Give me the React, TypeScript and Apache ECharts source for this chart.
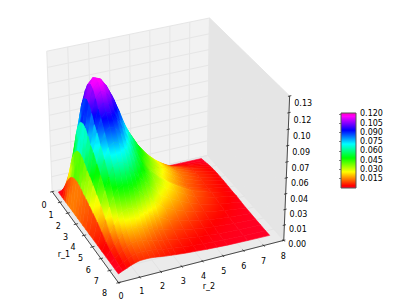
import React, { useEffect, useRef } from "react";
import * as echarts from "echarts";

const r1Values = [0.15,0.4,0.65,0.9,1.15,1.4,1.7,2,2.3,2.6,2.9,3.2,3.6,4,4.5,5,5.5,6,6.5,7,7.4];
const r2Values = [0.25,0.45,0.65,0.85,1.05,1.25,1.5,1.75,2,2.25,2.5,2.75,3,3.5,4,4.5,5,5.5,6.5,7.6];
// surface heights: one row per r_1, one column per r_2
const density = [
[0,.001,.0019,.0029,.0036,.0042,.0044,.0043,.004,.0036,.0032,.0027,.0023,.0018,.0013,.001,.0008,.0005,.0003,.0001],
[0,.0057,.0107,.0158,.02,.023,.0241,.0236,.022,.0198,.0174,.0149,.0129,.0097,.0073,.0055,.0042,.003,.0016,.0006],
[0,.0118,.022,.0326,.0412,.0473,.0496,.0486,.0453,.0408,.0359,.0306,.0265,.02,.0151,.0114,.0086,.0061,.0033,.0012],
[0,.0177,.0329,.0487,.0615,.0706,.074,.0725,.0676,.0609,.0536,.0457,.0396,.0298,.0225,.0171,.0128,.0091,.0049,.0018],
[0,.0224,.0418,.0619,.0782,.0898,.094,.0921,.0859,.0774,.0681,.058,.0503,.0379,.0286,.0217,.0163,.0116,.0062,.0023],
[0,.0259,.0482,.0714,.0902,.1025,.1065,.1048,.0985,.0893,.0786,.067,.058,.0438,.033,.025,.0188,.0134,.0071,.0027],
[0,.0283,.0527,.0781,.0986,.1105,.1155,.1135,.1072,.0976,.0859,.0732,.0634,.0478,.0361,.0273,.0205,.0146,.0078,.0029],
[0,.029,.054,.08,.101,.1135,.118,.116,.1095,.1,.088,.075,.065,.049,.037,.028,.021,.015,.008,.003],
[0,.0284,.053,.0785,.0991,.1115,.1165,.114,.1078,.0981,.0863,.0736,.0638,.0481,.0363,.0275,.0206,.0147,.0078,.0029],
[0,.0269,.0501,.0742,.0937,.106,.1115,.1092,.1025,.0928,.0817,.0696,.0603,.0455,.0343,.026,.0195,.0139,.0074,.0028],
[0,.0248,.0462,.0684,.0864,.0992,.1039,.1017,.0949,.0855,.0752,.0641,.0556,.0419,.0316,.0239,.018,.0128,.0068,.0026],
[0,.0235,.0438,.0649,.0819,.0941,.0985,.0965,.09,.0811,.0713,.0608,.0527,.0389,.0295,.0222,.0167,.012,.0064,.0024],
[0,.0213,.0395,.0586,.074,.085,.089,.0871,.0813,.0732,.0645,.055,.0495,.0377,.0297,.0235,.0177,.0126,.0066,.0021],
[0,.0188,.035,.052,.0655,.0754,.0788,.0773,.072,.0649,.0571,.0511,.0455,.0336,.0264,.0208,.0156,.0111,.0059,.0022],
[0,.0157,.0293,.0433,.0546,.0628,.0657,.0644,.0601,.0541,.0476,.0429,.038,.027,.0213,.0167,.0125,.009,.0047,.0014],
[0,.012,.0223,.0331,.0418,.048,.0503,.0492,.0459,.0414,.0364,.0329,.0285,.0201,.0159,.0125,.0093,.0068,.0036,.001],
[0,.0079,.0149,.022,.0277,.0319,.0334,.0328,.0305,.0275,.0242,.0218,.0192,.0142,.0112,.0088,.0066,.0047,.0025,.0008],
[0,.005,.0093,.0139,.0175,.0201,.021,.0206,.0192,.0173,.0152,.0138,.0124,.0098,.0077,.0061,.0046,.0033,.0017,.0005],
[0,.0034,.0063,.0094,.0118,.0136,.0142,.0139,.013,.0117,.0103,.0093,.0084,.0066,.0052,.0041,.0031,.0022,.0011,.0004],
[0,.0024,.0045,.0066,.0083,.0096,.01,.0098,.0092,.0083,.0073,.0066,.0059,.0046,.0037,.0029,.0021,.0015,.0008,.0002],
[0,.0018,.0033,.005,.0063,.0072,.0075,.0074,.0069,.0062,.0055,.005,.0044,.0035,.0028,.0021,.0016,.0011,.0006,.0002],
];
const rTicks = [0,1,2,3,4,5,6,7,8];
const zTicks = [0,.0144,.0289,.0433,.0578,.0722,.0867,.1011,.1156,.13];
const colorbarTicks = [0.015,0.03,0.045,0.06,0.075,0.09,0.105,0.12];
const colorMax = 0.1215;
const rMax = 8;
const zMax = 0.13;
// gist_rainbow colormap anchors: position, r, g, b
const rainbow = [
  [0,255,0,41],[0.03,255,0,0],[0.215,255,255,0],[0.4,0,255,0],[0.586,0,255,255],[0.77,0,0,255],[0.954,255,0,255],[1,255,0,191],
];

const FONT = "DejaVu Sans";
const AZ = (-24 * Math.PI) / 180;
const EL = (31 * Math.PI) / 180;
const DIST = 10;
const SCALE = 1795;
const Z_SQUASH = 0.925;
const CX = 165.5;
const CY = 146;

function project(r1: number, r2: number, z: number): number[] {
  const p = [r1 / rMax - 0.5, r2 / rMax - 0.5, (z / zMax - 0.5) * Z_SQUASH];
  const n = [Math.cos(AZ) * Math.cos(EL), Math.sin(AZ) * Math.cos(EL), Math.sin(EL)];
  const right = [-Math.sin(AZ), Math.cos(AZ), 0];
  const up = [
    n[1] * right[2] - n[2] * right[1],
    n[2] * right[0] - n[0] * right[2],
    n[0] * right[1] - n[1] * right[0],
  ];
  const dot = (a: number[], b: number[]) => a[0] * b[0] + a[1] * b[1] + a[2] * b[2];
  const d = DIST - dot(p, n);
  return [CX + (SCALE * dot(p, right)) / d, CY - (SCALE * dot(p, up)) / d];
}

function colorOf(v: number): string {
  const t = Math.max(0, Math.min(1, v / colorMax));
  for (let i = 1; i < rainbow.length; i++) {
    if (t <= rainbow[i][0]) {
      const a = rainbow[i - 1];
      const b = rainbow[i];
      const f = (t - a[0]) / (b[0] - a[0]);
      return `rgb(${Math.round(a[1] + (b[1] - a[1]) * f)},${Math.round(a[2] + (b[2] - a[2]) * f)},${Math.round(a[3] + (b[3] - a[3]) * f)})`;
    }
  }
  return "rgb(255,0,191)";
}

function gradientStops(a: number, b: number) {
  return [0, 0.25, 0.5, 0.75, 1].map((offset) => ({ offset, color: colorOf(a + (b - a) * offset) }));
}

// A cell's four heights decide how it is shaded: narrow strips are shaded along r_1 only,
// wider cells along the steepest direction of the plane that best fits their corners.
function cellFill(i: number, j: number, pts: number[][]) {
  const z = density;
  const vals = [z[i][j], z[i][j + 1], z[i + 1][j + 1], z[i + 1][j]];
  const mid = (a: number[], b: number[]) => [(a[0] + b[0]) / 2, (a[1] + b[1]) / 2];
  if (r2Values[j + 1] - r2Values[j] <= 0.25) {
    const s = mid(pts[0], pts[1]);
    const e = mid(pts[3], pts[2]);
    return new echarts.graphic.LinearGradient(s[0], s[1], e[0], e[1],
      gradientStops((vals[0] + vals[1]) / 2, (vals[3] + vals[2]) / 2), true);
  }
  const mx = (pts[0][0] + pts[1][0] + pts[2][0] + pts[3][0]) / 4;
  const my = (pts[0][1] + pts[1][1] + pts[2][1] + pts[3][1]) / 4;
  const mv = (vals[0] + vals[1] + vals[2] + vals[3]) / 4;
  let sxx = 0, sxy = 0, syy = 0, sxv = 0, syv = 0;
  pts.forEach((p, k) => {
    const dx = p[0] - mx, dy = p[1] - my, dv = vals[k] - mv;
    sxx += dx * dx; sxy += dx * dy; syy += dy * dy; sxv += dx * dv; syv += dy * dv;
  });
  const det = sxx * syy - sxy * sxy;
  if (Math.abs(det) < 1e-6) return colorOf(mv);
  const ga = (sxv * syy - syv * sxy) / det;
  const gb = (syv * sxx - sxv * sxy) / det;
  const g2 = ga * ga + gb * gb;
  if (g2 < 1e-14) return colorOf(mv);
  const plane = pts.map((p) => mv + ga * (p[0] - mx) + gb * (p[1] - my));
  const lo = Math.min(...plane);
  const hi = Math.max(...plane);
  const at = (v: number) => [mx + ((v - mv) * ga) / g2, my + ((v - mv) * gb) / g2];
  const s = at(lo);
  const e = at(hi);
  return new echarts.graphic.LinearGradient(s[0], s[1], e[0], e[1], gradientStops(lo, hi), true);
}

function line(a: number[], b: number[], stroke: string, lineWidth: number, z = 1) {
  return { type: "line", silent: true, z, shape: { x1: a[0], y1: a[1], x2: b[0], y2: b[1] }, style: { stroke, lineWidth } };
}
function label(text: string, x: number, y: number) {
  return {
    type: "text", silent: true, z: 3, x, y,
    style: { text, fill: "#000", font: `8px "${FONT}"`, textAlign: "center", textVerticalAlign: "middle" },
  };
}
function wall(pts: number[][], fill: string) {
  return { type: "polygon", silent: true, z: 0, shape: { points: pts }, style: { fill } };
}

function buildScene() {
  const els: any[] = [];
  const P = project;
  els.push(wall([P(0,0,0),P(0,0,zMax),P(0,rMax,zMax),P(0,rMax,0)], "#f2f2f2"));
  els.push(wall([P(0,rMax,0),P(0,rMax,zMax),P(rMax,rMax,zMax),P(rMax,rMax,0)], "#e5e5e5"));
  els.push(wall([P(0,0,0),P(rMax,0,0),P(rMax,rMax,0),P(0,rMax,0)], "#ebebeb"));
  const grid = "#e6e6e6";
  rTicks.forEach((t) => {
    els.push(line(P(0,t,0), P(0,t,zMax), grid, 1));
    els.push(line(P(t,rMax,0), P(t,rMax,zMax), grid, 1));
    els.push(line(P(0,t,0), P(rMax,t,0), "#e3e3e3", 1));
    els.push(line(P(t,0,0), P(t,rMax,0), "#e3e3e3", 1));
  });
  zTicks.forEach((t) => {
    els.push(line(P(0,0,t), P(0,rMax,t), grid, 1));
    els.push(line(P(0,rMax,t), P(rMax,rMax,t), grid, 1));
  });
  const axisColor = "#222";
  els.push(line(P(0,0,0), P(rMax,0,0), axisColor, 0.8, 2));
  els.push(line(P(rMax,0,0), P(rMax,rMax,0), axisColor, 0.8, 2));
  els.push(line(P(rMax,rMax,0), P(rMax,rMax,zMax), axisColor, 0.8, 2));
  rTicks.forEach((t) => {
    els.push(line(P(t,-0.1,0), P(t,0.1,0), axisColor, 0.8, 2));
    els.push(line(P(rMax-0.1,t,0), P(rMax+0.1,t,0), axisColor, 0.8, 2));
    const a = P(t,0,0);
    const f = t / rMax;
    els.push(label(String(t), a[0] - 8 - 6 * f, a[1] + 14 - 3 * f));
    const b = P(rMax,t,0);
    els.push(label(String(t), b[0] + 2.5 - 3 * f, b[1] + 14 + 2 * f));
  });
  zTicks.forEach((t) => {
    const a = P(rMax,rMax - 0.08,t);
    const b = P(rMax,rMax + 0.08,t);
    els.push(line(a, b, axisColor, 0.8, 2));
    const c = P(rMax,rMax,t);
    const f = t / zMax;
    els.push(label(t.toFixed(2), c[0] + 13.5, c[1] + 4 + 4 * f));
  });
  els.push(label("r_1", 64, 254));
  els.push(label("r_2", 209, 286));
  return els;
}

const cells: number[][] = [];
for (let i = 0; i < r1Values.length - 1; i++) {
  for (let j = r2Values.length - 2; j >= 0; j--) cells.push([i, j]);
}

export default function App() {
  const ref = useRef<HTMLDivElement>(null);
  useEffect(() => {
    document.body.style.margin = "0";
    const chart = echarts.init(ref.current!, undefined, { renderer: "svg" });
    const stops = rainbow.map((s) => ({ offset: 1 - s[0], color: `rgb(${s[1]},${s[2]},${s[3]})` })).reverse();
    chart.setOption({
      animation: false,
      backgroundColor: "#fff",
      graphic: { elements: buildScene() },
      grid: { left: 341, top: 113, width: 15, height: 75, containLabel: false, show: false },
      xAxis: { type: "value", min: 0, max: 1, show: false },
      yAxis: {
        type: "value", position: "right", min: 0, max: colorMax, interval: 0.015,
        axisLine: { show: false },
        axisTick: { show: true, inside: true, length: 2, lineStyle: { color: "#333", width: 0.6 }, customValues: colorbarTicks },
        splitLine: { show: false },
        axisLabel: {
          margin: 4, color: "#000",
          fontFamily: FONT, fontSize: 8,
          formatter: (v: number) => v.toFixed(3),
          customValues: colorbarTicks,
        },
      },
      series: [
        {
          type: "custom", coordinateSystem: "none", z: 2, silent: true, clip: false,
          data: cells,
          renderItem: (_p: any, api: any) => {
            const i = api.value(0);
            const j = api.value(1);
            const pts = [
              project(r1Values[i], r2Values[j], density[i][j]),
              project(r1Values[i], r2Values[j + 1], density[i][j + 1]),
              project(r1Values[i + 1], r2Values[j + 1], density[i + 1][j + 1]),
              project(r1Values[i + 1], r2Values[j], density[i + 1][j]),
            ];
            const fill = cellFill(i, j, pts);
            return { type: "polygon", shape: { points: pts }, style: { fill, stroke: fill, lineWidth: 0.6 } };
          },
        },
        {
          type: "custom", coordinateSystem: "cartesian2d", z: 3, silent: true,
          data: [[0, colorMax]],
          renderItem: (_p: any, api: any) => {
            const a = api.coord([0, 0]);
            const b = api.coord([1, colorMax]);
            return {
              type: "rect",
              shape: { x: a[0], y: b[1], width: b[0] - a[0], height: a[1] - b[1] },
              style: {
                fill: new echarts.graphic.LinearGradient(0, 0, 0, 1, stops),
                stroke: "#555", lineWidth: 1,
              },
            };
          },
        },
      ],
    });
    return () => chart.dispose();
  }, []);
  return <div ref={ref} style={{ position: "fixed", left: 0, top: 0, width: 401, height: 301 }} />;
}
